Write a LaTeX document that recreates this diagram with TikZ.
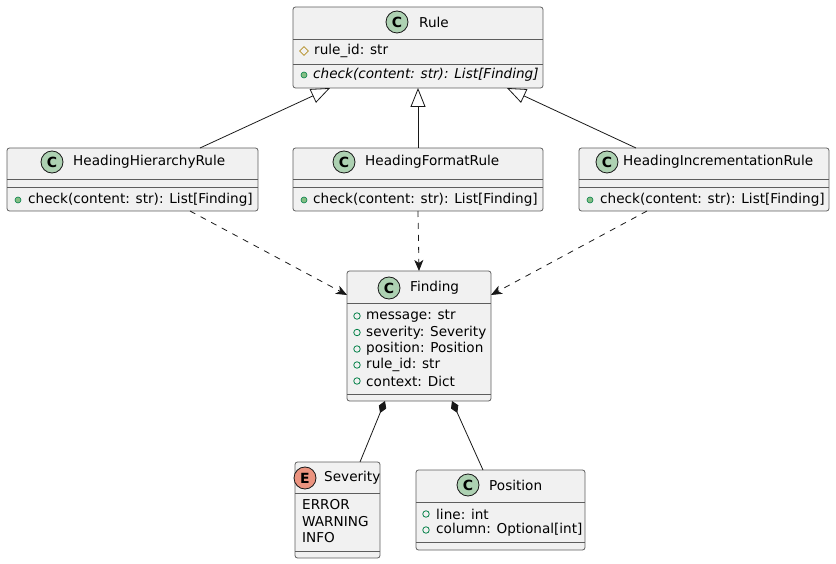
\documentclass[tikz,border=0pt]{standalone}
\usepackage{fontspec}
\setmainfont{DejaVu Sans}
\usetikzlibrary{arrows.meta, calc, shapes.geometric}
\definecolor{boxfill}{HTML}{F1F1F1}
\definecolor{linec}{HTML}{181818}
\definecolor{iconc}{HTML}{ADD1B2}
\definecolor{icone}{HTML}{EB937F}
\definecolor{pubfill}{HTML}{84BE84}
\definecolor{publine}{HTML}{038048}
\definecolor{protc}{HTML}{B38D22}

\begin{document}
\begin{tikzpicture}[
  x=1pt, y=-1pt, font=\fontsize{13.6}{16}\selectfont,
  cls/.style={draw=linec!70, fill=boxfill, rounded corners=2.5pt, inner sep=0pt,
              outer sep=0pt, line width=0.8pt},
  sep/.style={draw=linec!70, line width=0.8pt},
  ic/.style={circle, draw=linec, fill=iconc, minimum size=22pt, inner sep=0pt,
             line width=0.8pt, font=\fontsize{14}{14}\selectfont\bfseries},
  ie/.style={ic, fill=icone},
  ttl/.style={anchor=west, inner sep=0pt},
  mem/.style={anchor=west, inner sep=0pt},
  pubm/.style={circle, draw=publine, fill=pubfill, minimum size=6pt, inner sep=0pt,
               line width=0.6pt},
  pubf/.style={circle, draw=publine, minimum size=6.5pt, inner sep=0pt, line width=0.8pt},
  prot/.style={diamond, draw=protc, minimum size=9pt, inner sep=0pt, line width=0.8pt},
  inh/.style={draw=linec, line width=0.8pt, -{Triangle[open, length=19pt, width=15pt]}},
  dep/.style={draw=linec, line width=0.8pt, dash pattern=on 6pt off 6pt,
              -{Stealth[length=11pt, width=9pt, inset=3pt]}},
  comp/.style={draw=linec, line width=0.8pt, {Diamond[length=13pt, width=8pt]}-}]
  \useasboundingbox (0,0) rectangle (836,564);
  % abstract base
  \node[cls, minimum width=250pt, minimum height=81pt] (rule) at (418,47.5) {};
  \draw[sep] (293,39) -- (543,39);
  \draw[sep] (293,64) -- (543,64);
  \node[ic] (rule-c) at (397,22) {C};
  \node[ttl] (rule-t) at (419,22) {Rule};
  \node[prot] (rule-p1) at (304,51) {};
  \node[mem] (rule-a1) at (314,51) {rule\_id: str};
  \node[pubm] (rule-p2) at (304,75) {};
  \node[mem] (rule-m1) at (313,75) {\itshape check(content: str): List[Finding]};
  % concrete rules
  \node[cls, minimum width=251pt, minimum height=63pt] (hhr) at (132.5,179.5) {};
  \draw[sep] (7,179) -- (258,179);
  \draw[sep] (7,187) -- (258,187);
  \node[ic] (hhr-c) at (52,162) {C};
  \node[ttl] (hhr-t) at (73,162) {HeadingHierarchyRule};
  \node[pubm] (hhr-p) at (18,200) {};
  \node[mem] (hhr-m) at (28,200) {check(content: str): List[Finding]};

  \node[cls, minimum width=250pt, minimum height=63pt] (hfr) at (418,179.5) {};
  \draw[sep] (293,179) -- (543,179);
  \draw[sep] (293,187) -- (543,187);
  \node[ic] (hfr-c) at (344,162) {C};
  \node[ttl] (hfr-t) at (365,162) {HeadingFormatRule};
  \node[pubm] (hfr-p) at (304,200) {};
  \node[mem] (hfr-m) at (313,200) {check(content: str): List[Finding]};

  \node[cls, minimum width=250pt, minimum height=63pt] (hir) at (704,179.5) {};
  \draw[sep] (579,179) -- (829,179);
  \draw[sep] (579,187) -- (829,187);
  \node[ic] (hir-c) at (607,162) {C};
  \node[ttl] (hir-t) at (623,162) {HeadingIncrementationRule};
  \node[pubm] (hir-p) at (590,200) {};
  \node[mem] (hir-m) at (600,200) {check(content: str): List[Finding]};
  % result
  \node[cls, minimum width=144pt, minimum height=130pt] (finding) at (419,336) {};
  \draw[sep] (347,303) -- (491,303);
  \draw[sep] (347,394) -- (491,394);
  \node[ic] (finding-c) at (389,288) {C};
  \node[ttl] (finding-t) at (410,288) {Finding};
  \foreach \y/\txt [count=\i] in {316/message: str, 332.5/severity: Severity,
      349/position: Position, 365/rule\_id: str, 381/context: Dict} {
    \node[pubf] (finding-p\i) at (357,\y) {};
    \node[mem] (finding-a\i) at (366,\y) {\txt};
  }
  % enum + position
  \node[cls, minimum width=85pt, minimum height=96pt] (severity) at (337.5,510) {};
  \draw[sep] (295,493) -- (380,493);
  \draw[sep] (295,551) -- (380,551);
  \node[ie] (severity-c) at (305,478) {E};
  \node[ttl] (severity-t) at (324,478) {Severity};
  \node[mem] (severity-v1) at (302,505) {ERROR};
  \node[mem] (severity-v2) at (302,521.5) {WARNING};
  \node[mem] (severity-v3) at (302,538) {INFO};

  \node[cls, minimum width=169pt, minimum height=80pt] (position) at (500.5,510) {};
  \draw[sep] (416,502) -- (585,502);
  \draw[sep] (416,542) -- (585,542);
  \node[ic] (position-c) at (468,485) {C};
  \node[ttl] (position-t) at (489,485) {Position};
  \node[pubf] (position-p1) at (426,514) {};
  \node[mem] (position-a1) at (436,514) {line: int};
  \node[pubf] (position-p2) at (426,530) {};
  \node[mem] (position-a2) at (436,530) {column: Optional[int]};
  % inheritance
  \draw[inh] ([xshift=67.5pt]hhr.north) -- ([xshift=-88pt]rule.south);
  \draw[inh] (hfr.north) -- (rule.south);
  \draw[inh] ([xshift=-68pt]hir.north) -- ([xshift=89pt]rule.south);
  % dependencies
  \draw[dep] ([xshift=57.5pt]hhr.south) -- ([yshift=41pt]finding.west);
  \draw[dep] (hfr.south) -- (finding.north);
  \draw[dep] ([xshift=-57pt]hir.south) -- ([yshift=41pt]finding.east);
  % composition
  \draw[comp] ([xshift=-34pt]finding.south) -- ([xshift=22.5pt]severity.north);
  \draw[comp] ([xshift=33pt]finding.south) -- ([xshift=-17.5pt]position.north);
\end{tikzpicture}
\end{document}
